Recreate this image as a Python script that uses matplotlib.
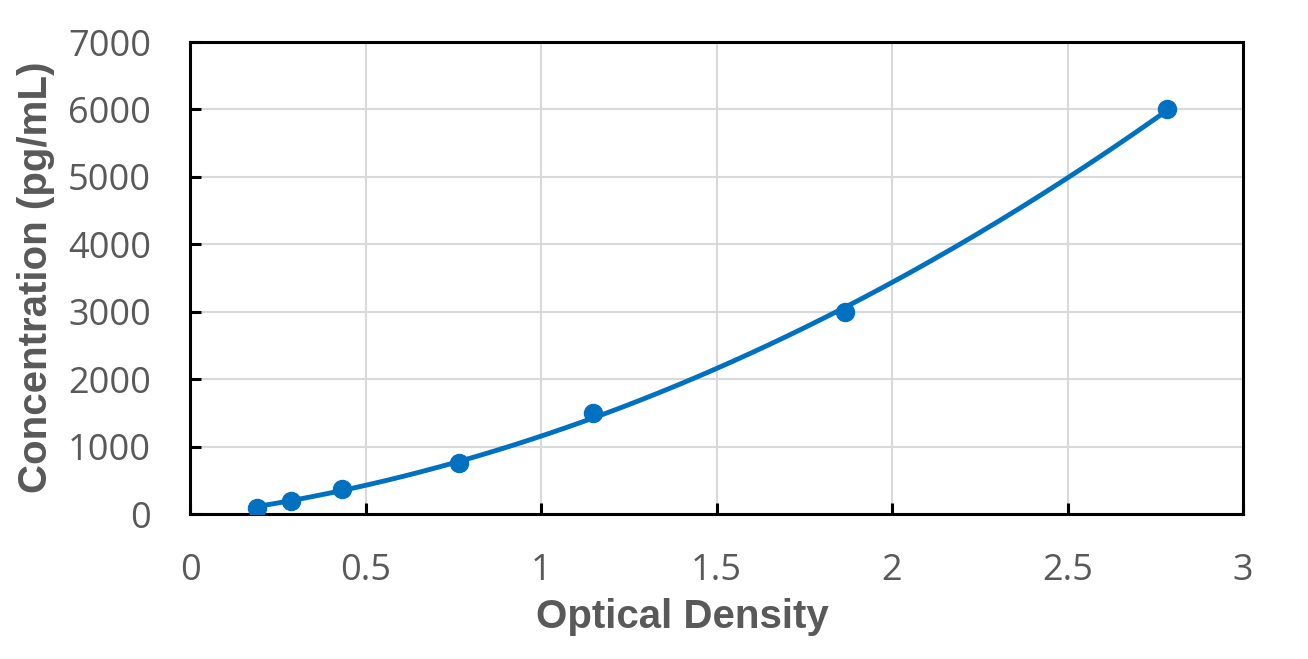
import numpy as np
import matplotlib
matplotlib.use("Agg")
import matplotlib.pyplot as plt

# standard curve points
od = [0.191, 0.288, 0.433, 0.766, 1.148, 1.866, 2.783]
conc = [94, 188, 375, 750, 1500, 3000, 6000]
xticks = [0, 0.5, 1, 1.5, 2, 2.5, 3]
xticklabels = ["0", "0.5", "1", "1.5", "2", "2.5", "3"]

blue = "#0070C0"
grey = "#595959"
plt.rcParams['font.family'] = ['Open Sans', 'DejaVu Sans']

fig = plt.figure(figsize=(13.08, 6.59), dpi=100)
ax = fig.add_axes([190/1308, 1-514/659, (1243-190)/1308, (514-42)/659])

# trend line through the points
coef = np.polyfit(od, conc, 2)
xs = np.linspace(min(od), max(od), 200)
ax.plot(xs, np.polyval(coef, xs), color=blue, lw=3.5, zorder=3)
ax.plot(od, conc, 'o', color=blue, ms=13, zorder=4)

ax.set_xlim(0, 3)
ax.set_ylim(0, 7000)
ax.set_xticks(xticks)
ax.set_xticklabels(xticklabels)
ax.set_yticks(range(0, 7001, 1000))
ax.grid(color="#d9d9d9", lw=1.5)
ax.set_axisbelow(True)
for s in ax.spines.values():
    s.set_linewidth(2.2)
    s.set_color("black")
ax.tick_params(direction='in', length=8, width=2.2, labelsize=26, labelcolor=grey)
ax.tick_params(axis='y', pad=28)
ax.tick_params(axis='x', pad=28)

fig.text(682/1308, 1-628/659, "Optical Density", fontsize=29, fontweight='bold',
         color=grey, family='Liberation Sans', ha='center', va='baseline')
fig.text(36/1308, 1-277/659, "Concentration (pg/mL)", fontsize=29, fontweight='bold',
         color=grey, family='Liberation Sans', ha='center', va='center', rotation=90)

fig.savefig("out.png", dpi=100)
